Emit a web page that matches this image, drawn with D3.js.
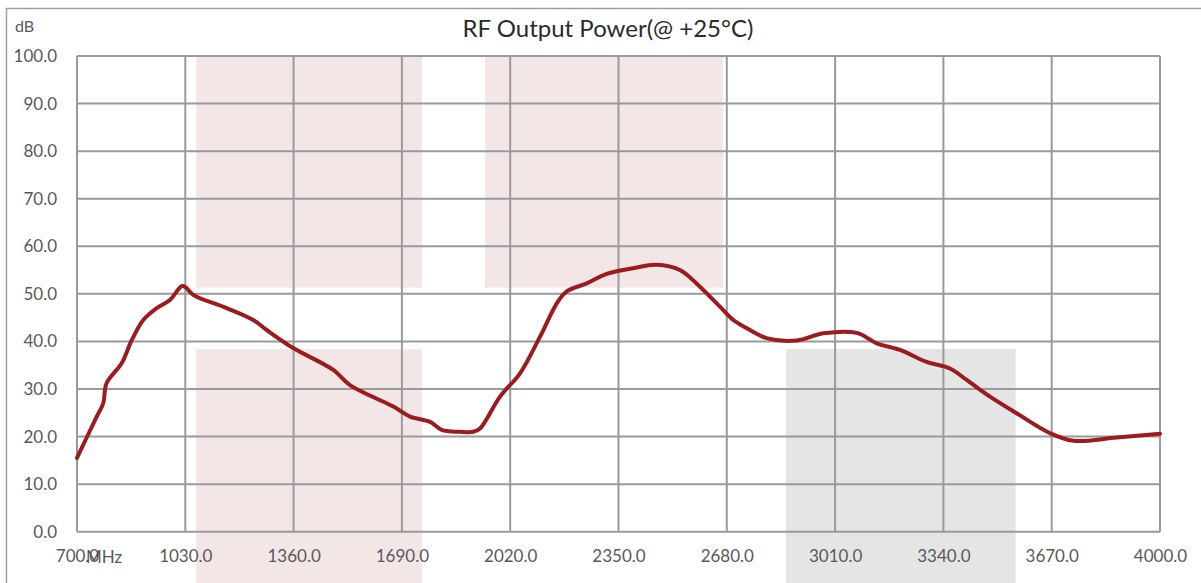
<!DOCTYPE html>
<html>
<head>
<meta charset="utf-8">
<script src="https://cdn.jsdelivr.net/npm/d3@7"></script>
<style>
  html, body { margin: 0; padding: 0; background: #fff; }
  svg { display: block; }
  text { font-family: Lato, "Open Sans", sans-serif; fill: #595959; }
</style>
</head>
<body>
<svg id="chart" width="1201" height="583"></svg>
<script>
// ---- data ----
const title = "RF Output Power(@ +25°C)";
const yUnit = "dB";
const xUnit = "MHz";
const xTicks = [700, 1030, 1360, 1690, 2020, 2350, 2680, 3010, 3340, 3670, 4000];
const yTicks = [0, 10, 20, 30, 40, 50, 60, 70, 80, 90, 100];

const freq = [700, 760, 780, 790, 836, 867, 902, 943, 983, 1019, 1029, 1054, 1156, 1237, 1278, 1359,
  1481, 1532, 1664, 1715, 1776, 1811, 1867, 1908, 1928, 1989, 2050, 2111, 2162, 2192, 2253, 2314,
  2395, 2466, 2537, 2598, 2659, 2700, 2740, 2801, 2893, 2974, 3076, 3137, 3208, 3289, 3360, 3411,
  3482, 3563, 3665, 3736, 3868, 4000];
const power = [15.5, 24.2, 27.0, 31.2, 35.4, 40.3, 44.5, 47.0, 48.7, 51.6, 51.5, 49.8, 47.0, 44.5, 42.4, 38.6,
  34.0, 30.8, 26.3, 24.2, 23.1, 21.4, 21.0, 21.0, 21.7, 28.4, 33.3, 41.0, 48.0, 50.5, 52.2, 54.2,
  55.4, 56.1, 55.0, 51.5, 47.3, 44.5, 42.8, 40.7, 40.2, 41.7, 41.8, 39.6, 38.2, 35.7, 34.3, 31.9,
  28.4, 24.9, 20.7, 19.1, 19.8, 20.6];

// shaded bands: [freqStart, freqEnd, dbLow, dbHigh]
const bandFreqStart = [1063, 1063, 1943, 2860];
const bandFreqEnd   = [1751, 1751, 2669, 3560];
const bandLow       = [51.3, -11, 51.3, -11];
const bandHigh      = [100, 38.4, 100, 38.4];
const bandKind      = ["pink", "pink", "pink", "gray"];

// ---- layout ----
const svg = d3.select("#chart");
const x = d3.scaleLinear().domain([700, 4000]).range([77, 1160]);
const y = d3.scaleLinear().domain([0, 100]).range([531.7, 56]);
const bandColor = { pink: "#f3e6e7", gray: "#e5e5e5" };

// outer border
svg.append("path")
  .attr("d", "M6.5,600 V8.5 H1210")
  .attr("fill", "none").attr("stroke", "#a0a0a0").attr("stroke-width", 1.5);

// bands
svg.append("g").selectAll("rect")
  .data(bandFreqStart.map((s, i) => ({ s, e: bandFreqEnd[i], lo: bandLow[i], hi: bandHigh[i], k: bandKind[i] })))
  .join("rect")
  .attr("x", d => x(d.s))
  .attr("width", d => x(d.e) - x(d.s))
  .attr("y", d => y(d.hi))
  .attr("height", d => y(d.lo) - y(d.hi))
  .attr("fill", d => bandColor[d.k]);

// grid
const grid = svg.append("g").attr("stroke", "#9a9a9c").attr("stroke-width", 2);
grid.selectAll("line.v").data(xTicks).join("line")
  .attr("x1", d => x(d)).attr("x2", d => x(d))
  .attr("y1", y(100)).attr("y2", y(0));
grid.selectAll("line.h").data(yTicks).join("line")
  .attr("y1", d => y(d)).attr("y2", d => y(d))
  .attr("x1", x(700)).attr("x2", x(4000));

// axes labels via d3 axes
const yAxis = d3.axisLeft(y).tickValues(yTicks).tickFormat(d3.format(".1f")).tickSize(0).tickPadding(0);
const gy = svg.append("g").attr("transform", "translate(57,0)").call(yAxis);
gy.select(".domain").remove();
gy.selectAll("text").attr("font-size", 17).attr("fill", "#595959")
  .attr("font-family", "Lato, 'Open Sans', sans-serif");

const xAxis = d3.axisBottom(x).tickValues(xTicks).tickFormat(d3.format(".1f")).tickSize(0).tickPadding(0);
const gx = svg.append("g").attr("transform", "translate(0,550)").call(xAxis);
gx.select(".domain").remove();
gx.selectAll("text").attr("font-size", 17).attr("fill", "#595959")
  .attr("font-family", "Lato, 'Open Sans', sans-serif");

// unit labels
svg.append("text").attr("x", 15).attr("y", 32).attr("font-size", 16).text(yUnit);
svg.append("text").attr("x", 86).attr("y", 563).attr("font-size", 17).text(xUnit);

// title
svg.append("text").attr("x", 608).attr("y", 37).attr("text-anchor", "middle")
  .attr("font-size", 24).style("fill", "#2b2b2b").text(title);

// line
const line = d3.line().x((d, i) => x(freq[i])).y(d => y(d)).curve(d3.curveCatmullRom.alpha(0.5));
svg.append("path").datum(power)
  .attr("d", line)
  .attr("fill", "none").attr("stroke", "#9c1b1f").attr("stroke-width", 4)
  .attr("stroke-linejoin", "round").attr("stroke-linecap", "round");
</script>
</body>
</html>
